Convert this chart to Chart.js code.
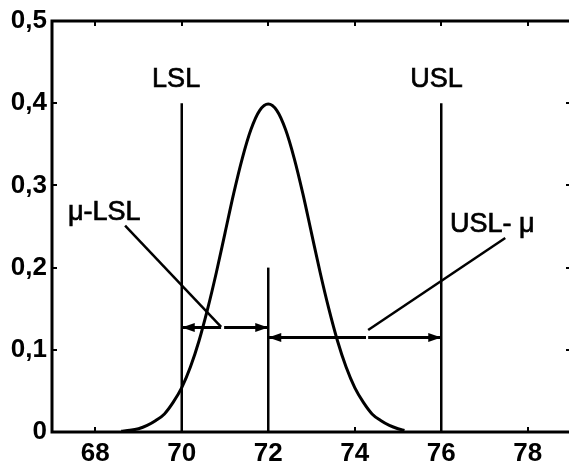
<!DOCTYPE html>
<html>
<head>
<meta charset="utf-8">
<script src="https://cdn.jsdelivr.net/npm/chart.js@4/dist/chart.umd.min.js"></script>
<style>
html,body{margin:0;padding:0;background:#fff;overflow:hidden;}
#wrap{width:575px;height:466px;}
</style>
</head>
<body>
<div id="wrap"><canvas id="c" width="575" height="466"></canvas></div>
<script>
// ---- data ----
const curveX = [68.6, 68.8, 69.0, 69.2, 69.4, 69.6, 69.8, 70.0, 70.2, 70.4, 70.6, 70.8, 71.0, 71.2, 71.4, 71.6, 71.8, 72.0,
                72.2, 72.4, 72.6, 72.8, 73.0, 73.2, 73.4, 73.6, 73.8, 74.0, 74.2, 74.4, 74.6, 74.8, 75.0, 75.15];
const curveY = [0.001, 0.002, 0.004, 0.008, 0.014, 0.022, 0.036, 0.054, 0.079, 0.111, 0.150, 0.194, 0.242, 0.290, 0.333, 0.368, 0.391, 0.399,
                0.391, 0.368, 0.333, 0.290, 0.242, 0.194, 0.150, 0.111, 0.079, 0.054, 0.036, 0.022, 0.014, 0.008, 0.004, 0.002];

const lslValue = 70;
const uslValue = 76;
const meanValue = 72;
const specLineTop = 0.40;
const meanLineTop = 0.20;

// arrows: [from, to, level, gapStart, gapEnd]
const arrowLower = [70, 72, 0.127, 70.91, 70.98];
const arrowUpper = [72, 76, 0.115, 74.26, 74.31];

// leader lines: [x1, y1, x2, y2]
const leaderLower = [68.69, 0.251, 70.91, 0.128];
const leaderUpper = [77.48, 0.236, 74.31, 0.124];

const xTicks = [68, 70, 72, 74, 76, 78];
const xTickLabels = ['68', '70', '72', '74', '76', '78'];
const yTicks = [0, 0.1, 0.2, 0.3, 0.4, 0.5];
const yTickLabels = ['0', '0,1', '0,2', '0,3', '0,4', '0,5'];

// text annotations: [text, x, y, align]
const labels = [
  ['LSL', 69.87, 0.4197, 'center'],
  ['USL', 75.89, 0.4197, 'center'],
  ['\u03bc-LSL', 67.37, 0.258, 'left'],
  ['USL- \u03bc', 76.20, 0.2433, 'left']
];

// ---- build chart ----
const curvePts = curveX.map((x, i) => ({x: x, y: curveY[i]}));
function seg(x1, y1, x2, y2) { return [{x: x1, y: y1}, {x: x2, y: y2}]; }
function arrowShaft(a) {
  return [{x: a[0], y: a[2]}, {x: a[3], y: a[2]}, {x: NaN, y: null}, {x: a[4], y: a[2]}, {x: a[1], y: a[2]}];
}
const base = {showLine: true, pointRadius: 0, borderColor: '#000', fill: false, tension: 0};

const decor = {
  id: 'decor',
  afterDatasetsDraw(chart) {
    const ctx = chart.ctx;
    const xs = chart.scales.x, ys = chart.scales.y;
    const {left, right, top, bottom} = chart.chartArea;
    ctx.save();
    ctx.fillStyle = '#000';
    ctx.strokeStyle = '#000';
    // arrow heads
    function head(xTip, yv, dir) {
      const px = xs.getPixelForValue(xTip), py = ys.getPixelForValue(yv);
      ctx.beginPath();
      ctx.moveTo(px, py);
      ctx.lineTo(px + dir * 13, py - 4.5);
      ctx.lineTo(px + dir * 13, py + 4.5);
      ctx.closePath();
      ctx.fill();
    }
    [arrowLower, arrowUpper].forEach(a => {
      head(a[0], a[2], 1);
      head(a[1], a[2], -1);
    });
    // texts
    ctx.font = '27px "Liberation Sans", Arial, sans-serif';
    ctx.textBaseline = 'alphabetic';
    ctx.lineWidth = 0.7;
    labels.forEach(l => {
      ctx.textAlign = l[3];
      const px = xs.getPixelForValue(l[1]), py = ys.getPixelForValue(l[2]);
      ctx.fillText(l[0], px, py);
      ctx.strokeText(l[0], px, py);
    });
    // frame
    ctx.lineWidth = 3;
    ctx.strokeRect(left, top, right - left, bottom - top);
    // inward ticks
    ctx.lineWidth = 2;
    ctx.beginPath();
    xTicks.forEach(v => {
      const px = Math.round(xs.getPixelForValue(v));
      ctx.moveTo(px, bottom); ctx.lineTo(px, bottom - 5);
      ctx.moveTo(px, top); ctx.lineTo(px, top + 5);
    });
    yTicks.forEach(v => {
      const py = Math.round(ys.getPixelForValue(v));
      ctx.moveTo(left, py); ctx.lineTo(left + 5, py);
      ctx.moveTo(right, py); ctx.lineTo(right - 5, py);
    });
    ctx.stroke();
    ctx.restore();
  }
};

const tickFont = {family: '"Liberation Sans", Arial, sans-serif', size: 26, weight: 'bold'};

new Chart(document.getElementById('c'), {
  type: 'scatter',
  data: {
    datasets: [
      Object.assign({}, base, {data: curvePts, borderWidth: 3, cubicInterpolationMode: 'monotone'}),
      Object.assign({}, base, {data: seg(lslValue, 0, lslValue, specLineTop), borderWidth: 2.5}),
      Object.assign({}, base, {data: seg(uslValue, 0, uslValue, specLineTop), borderWidth: 2.5}),
      Object.assign({}, base, {data: seg(meanValue, 0, meanValue, meanLineTop), borderWidth: 2.5}),
      Object.assign({}, base, {data: arrowShaft(arrowLower), borderWidth: 3, spanGaps: false}),
      Object.assign({}, base, {data: arrowShaft(arrowUpper), borderWidth: 3, spanGaps: false}),
      Object.assign({}, base, {data: seg(leaderLower[0], leaderLower[1], leaderLower[2], leaderLower[3]), borderWidth: 2.5}),
      Object.assign({}, base, {data: seg(leaderUpper[0], leaderUpper[1], leaderUpper[2], leaderUpper[3]), borderWidth: 2.5})
    ]
  },
  options: {
    responsive: false,
    animation: false,
    devicePixelRatio: 1,
    layout: {padding: {top: 21, right: 4, left: 0, bottom: 0}},
    plugins: {legend: {display: false}, tooltip: {enabled: false}},
    scales: {
      x: {
        type: 'linear', min: 67, max: 79,
        grid: {display: false, drawTicks: false},
        border: {display: false},
        afterBuildTicks: s => { s.ticks = xTicks.map(v => ({value: v})); },
        afterFit: s => { s.height = 34; },
        ticks: {
          color: '#000', font: tickFont, padding: 6, maxRotation: 0, autoSkip: false,
          callback: (v) => { const i = xTicks.indexOf(v); return i >= 0 ? xTickLabels[i] : ''; }
        }
      },
      y: {
        type: 'linear', min: 0, max: 0.5,
        grid: {display: false, drawTicks: false},
        border: {display: false},
        afterBuildTicks: s => { s.ticks = yTicks.map(v => ({value: v})); },
        afterFit: s => { s.width = 52; },
        ticks: {
          color: '#000', font: tickFont, padding: 5, autoSkip: false,
          callback: (v) => { const i = yTicks.findIndex(t => Math.abs(t - v) < 1e-9); return i >= 0 ? yTickLabels[i] : ''; }
        }
      }
    }
  },
  plugins: [decor]
});
</script>
</body>
</html>
